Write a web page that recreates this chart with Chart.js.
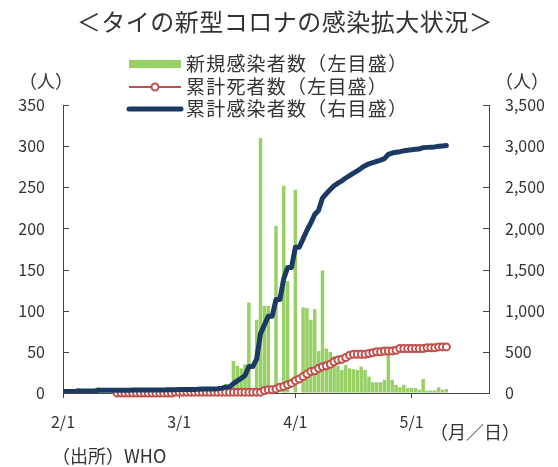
<!DOCTYPE html>
<html>
<head>
<meta charset="utf-8">
<script src="https://cdn.jsdelivr.net/npm/chart.js@4.4.1/dist/chart.umd.min.js"></script>
<style>
  html, body { margin: 0; padding: 0; background: #fff; }
  #box { width: 558px; height: 467px; }
</style>
</head>
<body>
<div id="box"><canvas id="myChart" width="558" height="467"></canvas></div>
<script>
// Thailand COVID-19 (WHO): daily new cases (bars, left axis),
// cumulative deaths (left axis), cumulative cases (right axis)

const tickDays = [0, 30, 60, 90];
const tickLabels = ["2/1", "3/1", "4/1", "5/1"];

const newCases = [
  0, 0, 0, 0, 6, 0, 0, 0, 0, 7,
  0, 0, 1, 0, 0, 0, 1, 0, 1, 0,
  0, 0, 0, 0, 0, 2, 0, 3, 0, 1,
  1, 0, 1, 0, 0, 4, 1, 2, 0, 0,
  3, 6, 11, 5, 39, 33, 30, 35, 110, 0,
  89, 310, 106, 106, 0, 203, 0, 252, 136, 0,
  247, 0, 104, 103, 89, 102, 51, 149, 54, 50,
  45, 33, 28, 34, 30, 29, 28, 32, 28, 20,
  13, 13, 13, 16, 47, 16, 10, 7, 10, 6,
  6, 6, 4, 17, 3, 3, 3, 7, 4, 5,
];

const deaths = [
  null, null, null, null, null, null, null, null, null, null,
  null, null, null, null, 0, 0, 0, 0, 0, 0,
  0, 0, 0, 0, 0, 0, 0, 0, 0, 1,
  1, 1, 1, 1, 1, 1, 1, 1, 1, 1,
  1, 1, 1, 1, 1, 1, 1, 1, 1, 1,
  1, 1, 3, 4, 4, 5, 7, 8, 10, 12,
  15, 17, 20, 23, 26, 27, 30, 32, 33, 35,
  38, 40, 41, 43, 46, 47, 47, 47, 47, 48,
  49, 50, 50, 51, 51, 51, 52, 54, 54, 54,
  54, 54, 54, 54, 55, 55, 55, 56, 56, 56,
];

const totalCases = [
  19, 19, 19, 19, 25, 25, 25, 25, 25, 32,
  32, 32, 33, 33, 33, 33, 34, 34, 35, 35,
  35, 35, 35, 35, 35, 37, 37, 40, 40, 41,
  42, 42, 43, 43, 43, 47, 48, 50, 50, 50,
  53, 59, 70, 75, 114, 147, 177, 212, 322, 322,
  411, 721, 827, 933, 933, 1136, 1136, 1388, 1524, 1524,
  1771, 1771, 1875, 1978, 2067, 2169, 2220, 2369, 2423, 2473,
  2518, 2551, 2579, 2613, 2643, 2672, 2700, 2732, 2762, 2785,
  2800, 2815, 2830, 2848, 2900, 2916, 2926, 2933, 2943, 2949,
  2955, 2961, 2965, 2982, 2985, 2988, 2991, 2998, 3002, 3007,
];

const titleText = "＜タイの新型コロナの感染拡大状況＞";
const textColor = "#333333";
const axisColor = "#444444";
const jpFont = '"Noto Sans CJK JP", "Noto Sans", sans-serif';

const green = "#98d066";
const red = "#c0504d";
const navy = "#1b3a63";

const toPoints = (arr) => arr.map((v, i) => ({ x: i, y: v }));

const barSet = {
  type: "bar",
  label: "新規感染者数（左目盛）",
  data: toPoints(newCases),
  yAxisID: "y",
  backgroundColor: green,
  borderWidth: 0,
  barPercentage: 0.95,
  categoryPercentage: 0.95,
  order: 3,
};

const deathSet = {
  type: "line",
  label: "累計死者数（左目盛）",
  data: toPoints(deaths),
  yAxisID: "y",
  borderColor: red,
  borderWidth: 2,
  pointRadius: 3.5,
  pointBorderWidth: 2,
  pointBackgroundColor: "#ffffff",
  pointBorderColor: red,
  tension: 0,
  clip: false,
  order: 2,
};

const totalSet = {
  type: "line",
  label: "累計感染者数（右目盛）",
  data: toPoints(totalCases),
  yAxisID: "y2",
  borderColor: navy,
  borderWidth: 5,
  borderCapStyle: "round",
  borderJoinStyle: "round",
  pointRadius: 0,
  tension: 0,
  order: 1,
};

// legend is drawn by hand, in this order
const legendOrder = [barSet, deathSet, totalSet];

const decorations = {
  id: "decorations",
  afterDraw(chart) {
    const { ctx, chartArea: a, scales } = chart;
    ctx.save();

    // inward tick marks on both value axes
    ctx.strokeStyle = axisColor;
    ctx.lineWidth = 1;
    ctx.beginPath();
    scales.y.ticks.forEach((t) => {
      const y = Math.round(scales.y.getPixelForValue(t.value)) + 0.5;
      ctx.moveTo(a.left, y);
      ctx.lineTo(a.left + 6, y);
    });
    scales.y2.ticks.forEach((t) => {
      const y = Math.round(scales.y2.getPixelForValue(t.value)) + 0.5;
      ctx.moveTo(a.right, y);
      ctx.lineTo(a.right - 6, y);
    });
    ctx.stroke();

    ctx.fillStyle = textColor;
    ctx.textBaseline = "middle";

    // title
    ctx.textAlign = "center";
    ctx.font = "24px " + jpFont;
    ctx.letterSpacing = "0.5px";
    ctx.fillText(titleText, 285, 22);
    ctx.letterSpacing = "0px";

    // units and notes
    ctx.font = "18px " + jpFont;
    ctx.fillText("（人）", 46, 81);
    ctx.fillText("（人）", 522, 81);
    ctx.textAlign = "left";
    ctx.fillText("（月／日）", 430, 432);
    ctx.fillText("（出所）WHO", 52, 456);

    // legend
    const rows = [64, 87, 109];
    ctx.font = "19px " + jpFont;
    legendOrder.forEach((ds, i) => {
      const y = rows[i];
      if (ds.type === "bar") {
        ctx.fillStyle = ds.backgroundColor;
        ctx.fillRect(129, y - 4, 52, 8);
      } else {
        ctx.strokeStyle = ds.borderColor;
        ctx.lineWidth = ds.borderWidth;
        ctx.lineCap = ds.borderCapStyle || "butt";
        ctx.beginPath();
        ctx.moveTo(129, y);
        ctx.lineTo(181, y);
        ctx.stroke();
        if (ds.pointRadius > 0) {
          ctx.fillStyle = ds.pointBackgroundColor;
          ctx.lineWidth = ds.pointBorderWidth;
          ctx.beginPath();
          ctx.arc(155, y, ds.pointRadius, 0, Math.PI * 2);
          ctx.fill();
          ctx.stroke();
        }
      }
      ctx.fillStyle = textColor;
      ctx.letterSpacing = "1.2px";
      ctx.fillText(ds.label, 186, y);
      ctx.letterSpacing = "0px";
    });

    ctx.restore();
  },
};

const ctx = document.querySelector("#myChart");

const config = {
  type: "bar",
  data: { datasets: [totalSet, deathSet, barSet] },
  options: {
    responsive: false,
    animation: false,
    layout: { padding: { top: 105, left: 0, right: 0, bottom: 0 } },
    plugins: {
      legend: { display: false },
      tooltip: { enabled: false },
    },
    scales: {
      x: {
        type: "linear",
        min: 0,
        max: 110,
        offset: false,
        afterBuildTicks: (s) => {
          s.ticks = tickDays.map((v) => ({ value: v }));
        },
        afterFit: (s) => {
          s.height = 74;
        },
        ticks: {
          autoSkip: false,
          maxRotation: 0,
          padding: 14,
          color: textColor,
          font: { family: jpFont, size: 16 },
          callback: (v) => tickLabels[tickDays.indexOf(v)],
        },
        grid: {
          offset: false,
          drawOnChartArea: false,
          drawTicks: true,
          tickLength: 5,
          color: axisColor,
        },
        border: { display: true, color: axisColor },
      },
      y: {
        position: "left",
        min: 0,
        max: 350,
        afterFit: (s) => {
          s.width = 63;
        },
        ticks: {
          stepSize: 50,
          padding: 18,
          color: textColor,
          font: { family: jpFont, size: 16 },
        },
        grid: { drawOnChartArea: false, drawTicks: false },
        border: { display: true, color: axisColor },
      },
      y2: {
        position: "right",
        min: 0,
        max: 3500,
        afterFit: (s) => {
          s.width = 69;
        },
        ticks: {
          stepSize: 500,
          padding: 16,
          color: textColor,
          font: { family: jpFont, size: 16 },
          callback: (v) => v.toLocaleString("en-US"),
        },
        grid: { drawOnChartArea: false, drawTicks: false },
        border: { display: true, color: axisColor },
      },
    },
  },
  plugins: [decorations],
};

const chart = new Chart(ctx, config);
</script>
</body>
</html>
